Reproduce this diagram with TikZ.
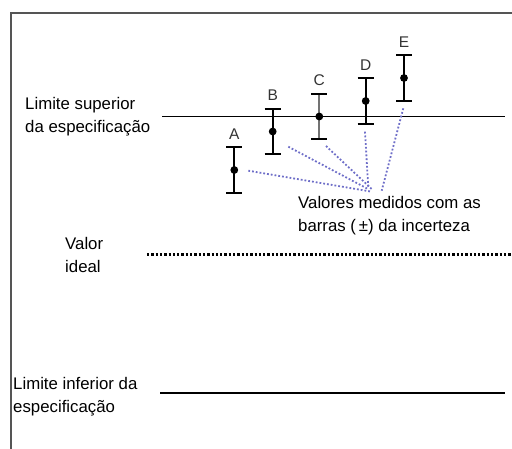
\documentclass[tikz,border=0pt]{standalone}
\usepackage{fontspec}
\setmainfont{Liberation Sans}
\usepackage{tikz}

\definecolor{framegray}{RGB}{85,85,85}
\definecolor{guideblue}{RGB}{110,110,200}

\begin{document}
\begin{tikzpicture}[x=1pt,y=-1pt]
\tikzset{
  every node/.style={inner sep=0pt,font=\fontsize{16.8}{23}\selectfont},
  txt/.style={align=left,anchor=north west},
  bar/.style={line width=2.2pt},
  guide/.style={guideblue,dotted,line width=1.8pt}
}
\useasboundingbox (0,0) rectangle (512,449);
\draw[framegray,line width=2pt] (11,460) -- (11,13) -- (520,13);

% limits
\coordinate (sup1) at (162,116.7);
\coordinate (sup2) at (505,116.7);
\coordinate (ide1) at (147,254.5);
\coordinate (ide2) at (512,254.5);
\coordinate (inf1) at (160,392.7);
\coordinate (inf2) at (505,392.7);
\draw[line width=1.4pt] (sup1) -- (sup2);
\draw[dotted,line width=2.3pt] (ide1) -- (ide2);
\draw[line width=2pt] (inf1) -- (inf2);

\node[txt] (tsup) at (25,97.3) {Limite superior\\da especificação};
\node[txt] (tide) at (65,237.3) {Valor\\ideal};
\node[txt] (tinf) at (13,376.8) {Limite inferior da\\especificação};
\node[txt] (tval) at (298,195.8) {Valores medidos com as\\barras (\,±) da incerteza};

% measured values with uncertainty bars
\foreach \n/\x/\y/\c in {A/234.3/170/black,B/272.7/131.5/black,C/319.3/116.5/black!55,D/365.7/101/black,E/404/78/black}
{
\coordinate (\n) at (\x,\y);
\coordinate (\n t) at (\x,\y-22.8);
\coordinate (\n b) at (\x,\y+22.8);
\draw[bar,\c] (\n t) -- (\n b);
\draw[bar,black] ([xshift=-8]\n t) -- ([xshift=8]\n t);
\draw[bar,black] ([xshift=-8]\n b) -- ([xshift=8]\n b);
\fill (\n) circle (3.9);
\node[black!80] (l\n) at ([yshift=13.5]\n t) {\fontsize{15.5}{15}\selectfont\n};
}

% dotted guides to the label
\coordinate (gA) at (248.3,170.7);
\coordinate (gB) at (288.3,146.7);
\coordinate (gC) at (326,146);
\coordinate (gD) at (365,131.7);
\coordinate (gE) at (403.3,108.3);
\coordinate (hA) at (371.7,191.7);
\coordinate (hB) at (368,189);
\coordinate (hC) at (371.7,189);
\coordinate (hD) at (368.3,188);
\coordinate (hE) at (381.7,190.7);
\foreach \n in {A,B,C,D,E}
{
\draw[guide] (g\n) -- (h\n);
}
\end{tikzpicture}
\end{document}
